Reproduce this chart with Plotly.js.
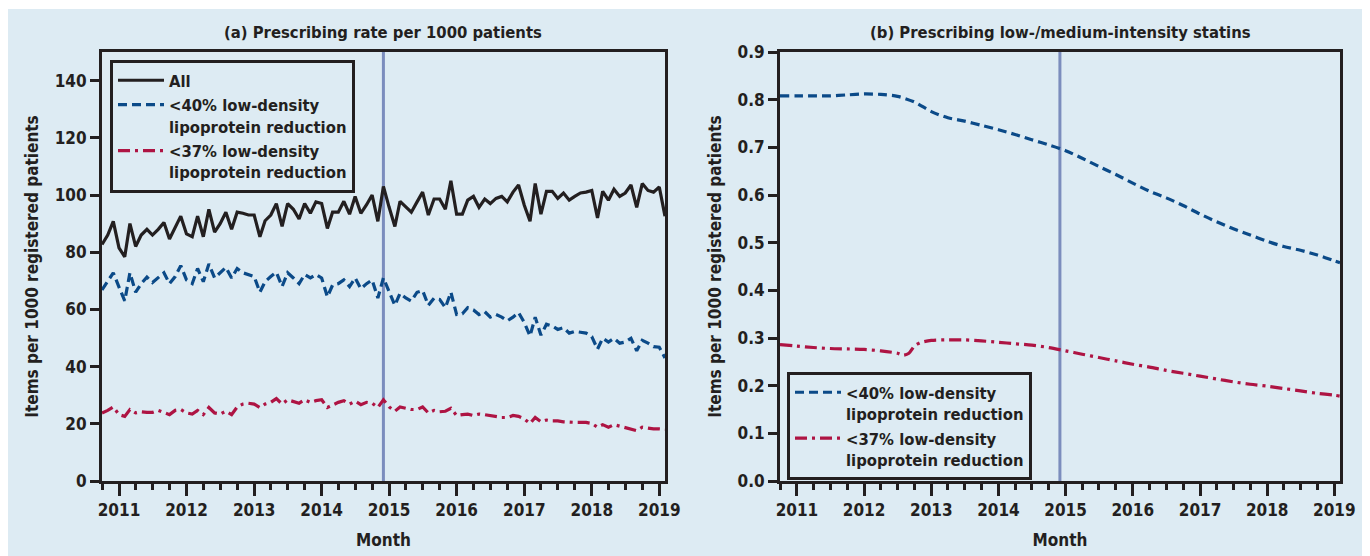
<!DOCTYPE html>
<html><head><meta charset="utf-8">
<script src="https://cdn.plot.ly/plotly-3.0.1.min.js"></script>
<style>html,body{margin:0;padding:0;background:#fff}#chart{width:1370px;height:556px}</style>
</head><body><div id="chart"></div>
<script>
// ---- data (monthly, Oct 2010 .. Feb 2019) ----
const START_YEAR = 2010, START_MONTH = 10;
const allItems = [82.7,86,90.8,81.5,78.4,90,82,86,88,86,88,90.4,84.6,89,92.6,86.4,85.4,92.6,85.4,95,
  87,90,94,88,94,93.6,93,93,85.4,91,93,97,89,97,95,91.6,97,93.6,97.6,97,
  88.3,94,94,97.8,93.3,99.5,93.6,96.6,100,90.8,103,95.7,89,97.8,95.7,94,97.6,101,93,98.6,
  98.6,95,105,93.3,93.3,98.2,99.5,95.7,98.6,97,98.8,99.5,97.6,101,103.5,96.4,90.8,104,93.3,101.3,
  101.3,98.8,100.7,98.2,99.5,100.7,101,101.6,92,101.3,98.2,102,99.5,100.7,103.5,95.7,104,101.6,101,102.8,
  92.6];
const ldl40Items = [66.8,69.7,72.8,67.8,63,72.8,66,69,71.3,69.4,71,72.8,69,71.5,75.3,70.3,69,74.3,69.7,75.9,
  71,72.8,74.7,71,74.3,72.8,72.2,71.5,66,69.7,71.5,73,68,72.8,71,69,72.2,71,72.2,71,
  64.4,68.5,69,70.3,68,71,67.2,69,70.3,64,71,66,61.4,65.6,64,62.9,66,66.6,61.4,63.9,
  63.5,60.6,66,58.2,58.5,60.6,59.8,58.2,59.2,57.3,58.2,57.3,56,57.3,58.9,55.4,50.7,57.3,51,54.8,
  54.2,53,53.6,51.7,52.3,52,51.7,50.5,46.1,49.9,48.6,49.9,48.2,48.6,49.9,45.5,49.2,48.2,47,46.8,
  43];
const ldl37Items = [23.8,24.7,25.9,23.2,22.6,25,23.8,24.2,24,24,24.7,23.8,23.2,24.7,25,23.8,23.4,24.7,23.2,25.7,
  23.8,23.4,24.4,23.2,25.9,26.9,27.2,26.9,25.7,26.9,27.5,28.8,26.9,28.4,27.9,27.2,28.4,27.5,28.1,28.4,
  25.7,26.7,27.5,28.1,26.9,27.9,26.7,27.5,27.2,25.7,28.4,25.9,24.4,25.9,25.4,25,25,25.9,23.8,24.7,
  24.2,24.4,25.4,22.9,23.2,23.4,22.9,23.4,23.2,22.9,22.6,22.2,22.2,22.9,22.6,21.7,20.1,22.2,20.7,21.3,
  21,21,20.7,20.5,20.5,20.5,20.5,20.1,18.8,19.7,18.8,19.7,19.2,18.8,18.2,17.6,18.8,18.5,18.2,18.2,
  18];

// ---- panel (b): smoothed low-/medium-intensity proportion ----
const lowDates40 = ['2010-10-01','2011-01-01','2011-04-01','2011-07-01','2011-10-01',
  '2012-01-01','2012-04-01','2012-07-01','2012-10-01','2013-01-01','2013-04-01','2013-07-01','2013-10-01',
  '2014-01-01','2014-04-01','2014-07-01','2014-10-01','2015-01-01','2015-04-01','2015-07-01','2015-10-01',
  '2016-01-01','2016-04-01','2016-07-01','2016-10-01','2017-01-01','2017-04-01','2017-07-01','2017-10-01',
  '2018-01-01','2018-04-01','2018-07-01','2018-10-01','2019-01-01','2019-02-01'];
const low40 = [0.808,0.808,0.808,0.808,0.810,0.812,0.811,0.807,0.795,0.775,0.762,0.755,0.746,
  0.737,0.727,0.716,0.705,0.693,0.677,0.660,0.643,0.625,0.608,0.594,0.578,
  0.560,0.544,0.529,0.516,0.503,0.492,0.484,0.474,0.462,0.458];
const lowDates37 = ['2010-10-01','2011-01-01','2011-04-01','2011-07-01','2011-10-01',
  '2012-01-01','2012-04-01','2012-07-01','2012-08-01','2012-09-01','2012-10-01','2012-11-01',
  '2013-01-01','2013-04-01','2013-07-01','2013-10-01','2014-01-01','2014-04-01','2014-07-01','2014-10-01',
  '2015-01-01','2015-04-01','2015-07-01','2015-10-01','2016-01-01','2016-04-01','2016-07-01','2016-10-01',
  '2017-01-01','2017-04-01','2017-07-01','2017-10-01','2018-01-01','2018-04-01','2018-07-01','2018-10-01',
  '2019-01-01','2019-02-01'];
const low37 = [0.286,0.283,0.280,0.278,0.277,0.276,0.273,0.268,0.264,0.268,0.283,0.290,
  0.295,0.296,0.296,0.294,0.291,0.288,0.285,0.280,0.273,0.266,0.259,0.252,
  0.245,0.239,0.232,0.226,0.220,0.214,0.208,0.203,0.199,0.194,0.189,0.184,0.180,0.178];

const INTERVENTION = '2014-12-01';
const NAMES = ['All', '<40% low-density<br>lipoprotein reduction', '<37% low-density<br>lipoprotein reduction'];
const PANEL_TITLES = ['(a) Prescribing rate per 1000 patients', '(b) Prescribing low-/medium-intensity statins'];
const Y_TITLE = 'Items per 1000 registered patients';
const X_TITLE = 'Month';

// month labels for the monthly series
const months = allItems.map((_, k) => {
  const m = START_MONTH - 1 + k;
  const y = START_YEAR + Math.floor(m / 12);
  const mm = (m % 12) + 1;
  return y + '-' + String(mm).padStart(2, '0') + '-01';
});

// ---- styling ----
const FONT = 'DejaVu Sans Condensed, Liberation Sans Narrow, DejaVu Sans, sans-serif';
const INK = '#231f20';
const BLUE = '#0b4a88';
const RED = '#ae1443';
const VLINE = '#7b8dbd';
const BG = '#ddebf3';
const W = 1370, H = 556;
const px = v => v / W, py = v => (H - v) / H;

const fnt = (s) => ({family: FONT, size: s, color: INK, weight: 'bold'});

function xAxis(domain, anchor) {
  return {
    domain, anchor, type: 'date', range: ['2010-10-01', '2019-02-01'],
    showline: true, mirror: true, linewidth: 3, linecolor: INK,
    showgrid: false, zeroline: false,
    ticks: 'outside', ticklen: 12, tickwidth: 3, tickcolor: INK,
    dtick: 'M12', tick0: '2011-01-01', tickformat: '%Y',
    minor: {dtick: 'M3', tick0: '2011-01-01', ticks: 'outside', ticklen: 6, tickwidth: 3, tickcolor: INK, showgrid: false},
    tickfont: fnt(17),
    title: {text: X_TITLE, font: fnt(17), standoff: 15},
    automargin: false
  };
}
function yAxis(domain, anchor, range, dtick, fmt) {
  return {
    domain, anchor, range, dtick, tick0: 0, tickformat: fmt,
    showline: true, mirror: true, linewidth: 3, linecolor: INK,
    showgrid: false, zeroline: false,
    ticks: 'outside', ticklen: 9, tickwidth: 3, tickcolor: INK,
    tickfont: fnt(17),
    title: {text: Y_TITLE, font: fnt(17), standoff: 12},
    automargin: false
  };
}

const yDom = [py(481), py(52)];

const traces = [
  {x: months, y: allItems, name: NAMES[0], xaxis: 'x', yaxis: 'y', mode: 'lines',
   line: {color: INK, width: 3.2}, legend: 'legend'},
  {x: months, y: ldl40Items, name: NAMES[1], xaxis: 'x', yaxis: 'y', mode: 'lines',
   line: {color: BLUE, width: 3.2, dash: '9px,5px'}, legend: 'legend'},
  {x: months, y: ldl37Items, name: NAMES[2], xaxis: 'x', yaxis: 'y', mode: 'lines',
   line: {color: RED, width: 3.2, dash: '12px,5px,3px,5px'}, legend: 'legend'},
  {x: lowDates40, y: low40, name: NAMES[1], xaxis: 'x2', yaxis: 'y2', mode: 'lines',
   line: {color: BLUE, width: 3.2, dash: '9px,5px', shape: 'spline', smoothing: 0.8}, legend: 'legend2'},
  {x: lowDates37, y: low37, name: NAMES[2], xaxis: 'x2', yaxis: 'y2', mode: 'lines',
   line: {color: RED, width: 3.2, dash: '12px,5px,3px,5px', shape: 'spline', smoothing: 0.8}, legend: 'legend2'}
];

const legendBase = {
  xanchor: 'left', yanchor: 'top', bgcolor: 'rgba(0,0,0,0)',
  bordercolor: INK, borderwidth: 3, font: fnt(16.5), valign: 'top',
  tracegroupgap: 0, itemwidth: 46
};

const layout = {
  width: W, height: H,
  margin: {l: 0, r: 0, t: 0, b: 0},
  paper_bgcolor: '#ffffff', plot_bgcolor: 'rgba(0,0,0,0)',
  showlegend: true,
  xaxis: xAxis([px(102), px(665)], 'y'),
  yaxis: yAxis(yDom, 'x', [0, 150], 20, 'd'),
  xaxis2: xAxis([px(780), px(1340)], 'y2'),
  yaxis2: yAxis(yDom, 'x2', [0, 0.9], 0.1, '.1f'),
  legend: Object.assign({}, legendBase, {x: px(110), y: py(60)}),
  legend2: Object.assign({}, legendBase, {x: px(787), y: py(372)}),
  shapes: [
    {type: 'rect', xref: 'paper', yref: 'paper', x0: px(8), x1: px(1362), y0: 0, y1: py(9),
     fillcolor: BG, line: {width: 0}, layer: 'below'},
    {type: 'line', xref: 'x', yref: 'y domain', x0: INTERVENTION, x1: INTERVENTION, y0: 0, y1: 1,
     line: {color: VLINE, width: 3}, layer: 'below'},
    {type: 'line', xref: 'x2', yref: 'y2 domain', x0: INTERVENTION, x1: INTERVENTION, y0: 0, y1: 1,
     line: {color: VLINE, width: 3}, layer: 'below'}
  ],
  annotations: [
    {text: PANEL_TITLES[0], xref: 'paper', yref: 'paper', x: px(383), y: py(33), xanchor: 'center', yanchor: 'middle',
     showarrow: false, font: fnt(16.5)},
    {text: PANEL_TITLES[1], xref: 'paper', yref: 'paper', x: px(1060), y: py(33), xanchor: 'center', yanchor: 'middle',
     showarrow: false, font: fnt(16.5)}
  ]
};

Plotly.newPlot('chart', traces, layout, {displayModeBar: false, staticPlot: true});
</script>
</body></html>
